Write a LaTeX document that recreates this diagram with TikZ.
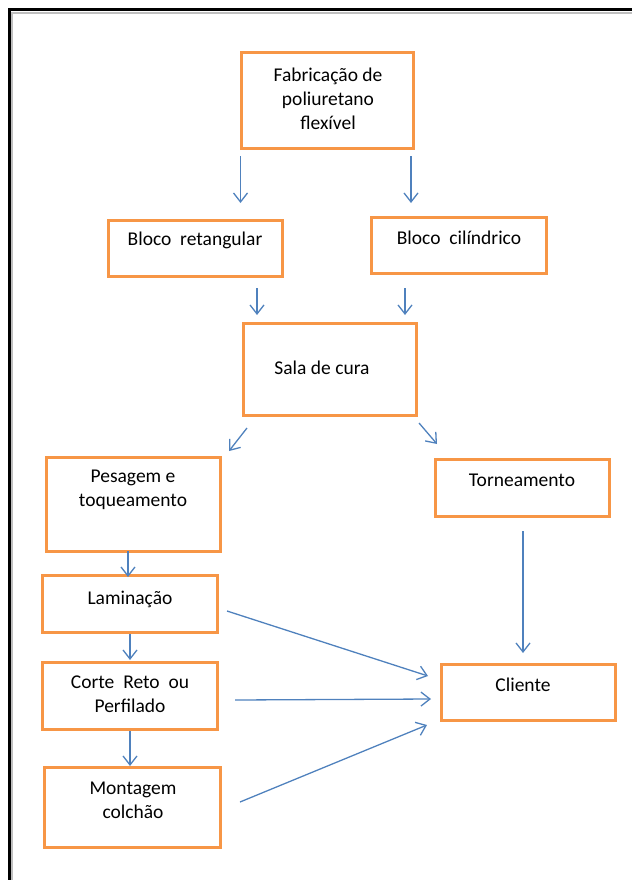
\documentclass[tikz,border=0pt]{standalone}
\usepackage{fontspec}
\setmainfont{Carlito}
\usetikzlibrary{arrows.meta}
\definecolor{boxorange}{HTML}{F79646}
\definecolor{arrblue}{HTML}{4F81BD}
\begin{document}
\begin{tikzpicture}[x=1pt,y=-1pt,
  box/.style={draw=boxorange,line width=3pt,anchor=north west,inner sep=0pt,outer sep=0pt},
  txt/.style={align=center,inner sep=0pt,font=\fontsize{19.5}{24}\selectfont,text=black},
  arr/.style={draw=arrblue,line width=1.3pt,-{Straight Barb[length=9pt,width=14pt,line width=1.3pt]}}]
\useasboundingbox (0,0) rectangle (632,880);
% frame
\draw[gray!50,line width=1.5pt] (11,12.8) -- (632,12.8);
\draw[gray!50,line width=1.5pt] (11.8,12) -- (11.8,880);
\draw[black,line width=3pt] (9,10) -- (632,10);
\draw[black,line width=3pt] (9,8.5) -- (9,880);
% boxes
\node[box,minimum width=172pt,minimum height=95pt] (fab) at (241,53) {};
\node[box,minimum width=174pt,minimum height=56pt] (bret) at (108,220) {};
\node[box,minimum width=175pt,minimum height=56pt] (bcil) at (371,217) {};
\node[box,minimum width=173pt,minimum height=92pt] (sala) at (243,323) {};
\node[box,minimum width=174pt,minimum height=94pt] (pes) at (46,457) {};
\node[box,minimum width=174pt,minimum height=57pt] (torn) at (435,459) {};
\node[box,minimum width=175pt,minimum height=57pt] (lam) at (42,575) {};
\node[box,minimum width=175pt,minimum height=67pt] (corte) at (42,662) {};
\node[box,minimum width=176pt,minimum height=80pt] (mont) at (44,767) {};
\node[box,minimum width=174pt,minimum height=56pt] (cli) at (441,664) {};
% texts
\node[txt] (fabt) at (328,99) {Fabrica\c{c}\~ao de\\poliuretano\\flex\'ivel};
\node[txt] (brett) at (195,240) {Bloco\ \ retangular};
\node[txt] (bcilt) at (459,238) {Bloco\ \ cil\'indrico};
\node[txt] (salat) at (322,368) {Sala de cura};
\node[txt] (pest) at (133,490) {Pesagem e\\toqueamento};
\node[txt] (tornt) at (522,480) {Torneamento};
\node[txt] (lamt) at (130,599) {Lamina\c{c}\~ao};
\node[txt] (cortet) at (130,694) {Corte\ \ Reto\ \ ou\\Perfilado};
\node[txt] (montt) at (133,800) {Montagem\\colch\~ao};
\node[txt] (clit) at (523,685) {Cliente};
% arrow endpoints
\coordinate (a1s) at (240.5,156); \coordinate (a1e) at (240.5,203);
\coordinate (a2s) at (411,156); \coordinate (a2e) at (411,203);
\coordinate (a3s) at (257,288); \coordinate (a3e) at (257,315);
\coordinate (a4s) at (405,288); \coordinate (a4e) at (405,315);
\coordinate (a5s) at (247,428); \coordinate (a5e) at (229,451);
\coordinate (a6s) at (419,423); \coordinate (a6e) at (437,444);
\coordinate (a7s) at (128,551); \coordinate (a7e) at (128,577);
\coordinate (a8s) at (130,634); \coordinate (a8e) at (130,660);
\coordinate (a9s) at (130,731); \coordinate (a9e) at (130,766);
\coordinate (a10s) at (523,531); \coordinate (a10e) at (523,653);
\coordinate (a11s) at (227,611); \coordinate (a11e) at (428,676);
\coordinate (a12s) at (235,700); \coordinate (a12e) at (431,699);
\coordinate (a13s) at (240,802); \coordinate (a13e) at (427,725);
% connectors
\draw[arr] (a1s) -- (a1e);
\draw[arr] (a2s) -- (a2e);
\draw[arr] (a3s) -- (a3e);
\draw[arr] (a4s) -- (a4e);
\draw[arr] (a5s) -- (a5e);
\draw[arr] (a6s) -- (a6e);
\draw[arr] (a7s) -- (a7e);
\draw[arr] (a8s) -- (a8e);
\draw[arr] (a9s) -- (a9e);
\draw[arr] (a10s) -- (a10e);
\draw[arr] (a11s) -- (a11e);
\draw[arr] (a12s) -- (a12e);
\draw[arr] (a13s) -- (a13e);
\end{tikzpicture}
\end{document}
